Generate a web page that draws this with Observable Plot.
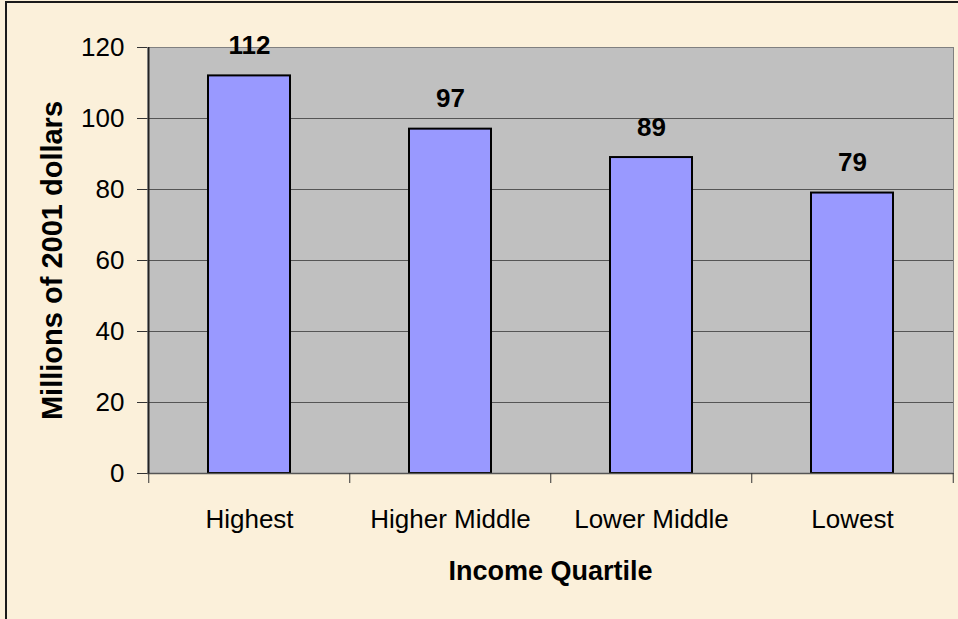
<!DOCTYPE html>
<html><head><meta charset="utf-8">
<script src="https://cdn.jsdelivr.net/npm/d3@7"></script>
<script src="https://cdn.jsdelivr.net/npm/@observablehq/plot@0.6"></script>
<style>
html,body{margin:0;padding:0;background:#FBF0DA;overflow:hidden;}
#chart{position:relative;width:958px;height:619px;}
#border{position:absolute;left:5px;top:1px;width:2000px;height:2000px;border-left:2px solid #1a1a1a;border-top:2px solid #1a1a1a;pointer-events:none;}
</style></head><body>
<div id="chart"><div id="border"></div></div>
<script>
const categories = ["Highest", "Higher Middle", "Lower Middle", "Lowest"];
const values = [112, 97, 89, 79];
const yTicks = [0, 20, 40, 60, 80, 100, 120];
const gridTicks = [20, 40, 60, 80, 100];
const xTitle = "Income Quartile";
const yTitle = "Millions of 2001 dollars";

const data = categories.map((c, i) => ({category: c, value: values[i]}));
const W = 958, H = 619, mL = 147, mR = 5, mT = 47, mB = 146;
const step = (W - mL - mR) / categories.length;
const pad = 0.593;

const chart = Plot.plot({
  width: W, height: H, marginLeft: mL, marginRight: mR, marginTop: mT, marginBottom: mB,
  style: {background: "transparent", fontFamily: "'Liberation Sans', Arial, sans-serif", color: "#000", overflow: "visible"},
  x: {domain: categories, paddingInner: pad, paddingOuter: pad / 2},
  y: {domain: [0, 120]},
  marks: [
    Plot.frame({fill: "#C0C0C0", stroke: "#808080"}),
    Plot.ruleY(gridTicks, {stroke: "#555", strokeWidth: 1}),
    Plot.barY(data, {x: "category", y: "value", fill: "#9999FF", stroke: "#000", strokeWidth: 2}),
    Plot.ruleY([0], {stroke: "#555", strokeWidth: 1.5}),
    Plot.ruleX(categories, {x: d => d, y1: 0, y2: 0, insetBottom: -10, dx: -step / 2, stroke: "#333"}),
    Plot.ruleX(categories.slice(-1), {x: d => d, y1: 0, y2: 0, insetBottom: -10, dx: step / 2, stroke: "#333"}),
    Plot.ruleX(categories.slice(0, 1), {x: d => d, y1: 0, y2: 120, dx: -step / 2, stroke: "#222", strokeWidth: 1.5}),
    Plot.axisY({ticks: yTicks, tickSize: 10, tickPadding: 13, fontSize: 26, stroke: "#333", label: null}),
    Plot.axisX({tickSize: 0, tickPadding: 36, fontSize: 26, label: null}),
    Plot.text(data, {x: "category", y: "value", text: d => String(d.value), dy: -22, lineAnchor: "bottom", fontSize: 26, fontWeight: "bold"}),
    Plot.text([xTitle], {frameAnchor: "bottom", text: d => d, dy: 87, lineAnchor: "top", fontSize: 27, fontWeight: "bold"}),
    Plot.text([yTitle], {frameAnchor: "left", text: d => d, rotate: -90, dx: -86, textAnchor: "middle", lineAnchor: "bottom", fontSize: 29, fontWeight: "bold"})
  ]
});
document.getElementById("chart").appendChild(chart);
</script>
</body></html>
